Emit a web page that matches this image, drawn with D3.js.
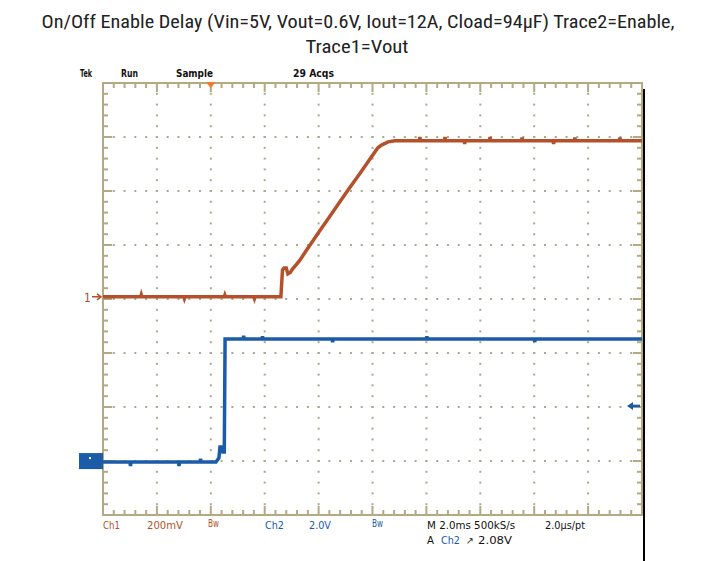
<!DOCTYPE html>
<html><head><meta charset="utf-8">
<script src="https://cdn.jsdelivr.net/npm/d3@7/dist/d3.min.js"></script>
<style>body{margin:0;background:#fff;} svg{display:block}</style>
</head><body><svg id="c" width="710" height="561"></svg>
<script>
// ---------- data ----------
const titleLines = ["On/Off Enable Delay (Vin=5V, Vout=0.6V, Iout=12A, Cload=94µF) Trace2=Enable,", "Trace1=Vout"];
const headerLabels = ["Tek", "Run", "Sample", "29 Acqs"];
const ch1Labels = ["Ch1", "200mV", "Bw"];
const ch2Labels = ["Ch2", "2.0V", "Bw"];
const timebaseLabels = ["M 2.0ms 500kS/s", "2.0µs/pt"];
const triggerLabels = ["A", "Ch2", "↗", "2.08V"];
const timeDomain = [-4, 16];      // ms, 2 ms/div, trigger at 0
const divDomain = [-4, 4];        // vertical divisions
const ch1VoltsPerDiv = 0.2, ch2VoltsPerDiv = 2.0;
const ch1OffsetDiv = 0.04, ch2OffsetDiv = -3.02;
const triggerLevel = 2.08;        // V on Ch2
// Ch1 = Vout  [time ms, volts]
const ch1Trace = [
  [-4,0],[-2.6,0],[-2.58,0.007],[-2.56,0],[-1.0,0],[-0.98,-0.006],[-0.96,0],[0.5,0],[0.52,0.006],[0.54,0],
  [1.6,0],[1.62,-0.006],[1.64,0],[2.6,0],[2.66,0.10],[2.72,0.107],[2.8,0.107],[2.86,0.085],[2.95,0.09],
  [3.01,0.10],[3.3,0.135],[3.6,0.18],[4.05,0.246],[4.4,0.296],[4.79,0.352],[5.1,0.397],[5.54,0.458],
  [5.9,0.51],[6.2,0.552],[6.35,0.563],[6.58,0.574],[6.83,0.578],
  [7.74,0.578],[7.76,0.592],[7.78,0.578],[8.67,0.578],[8.69,0.592],[8.71,0.578],[9.4,0.578],[9.42,0.566],[9.44,0.578],
  [10.34,0.578],[10.36,0.592],[10.38,0.578],[11.53,0.578],[11.55,0.59],[11.57,0.578],[12.7,0.578],[12.72,0.566],[12.74,0.578],
  [13.49,0.578],[13.51,0.59],[13.53,0.578],[15.16,0.578],[15.18,0.59],[15.2,0.578],[16,0.578]
];
// Ch2 = Enable  [time ms, volts]
const ch2Trace = [
  [-4,0],[-3.0,0],[-2.98,-0.15],[-2.96,0],[-1.2,0],[-1.18,-0.15],[-1.16,0],[-0.4,0],[-0.38,0.12],[-0.36,0],
  [0.19,0],[0.3,0.15],[0.34,0.56],[0.42,0.56],[0.45,0.37],[0.5,0.37],[0.53,4.556],
  [1.2,4.556],[1.22,4.68],[1.24,4.556],[1.9,4.556],[1.92,4.66],[1.94,4.556],[4.5,4.556],[4.52,4.44],[4.54,4.556],
  [8.0,4.556],[8.02,4.66],[8.04,4.556],[12.0,4.556],[12.02,4.45],[12.04,4.556],[16,4.556]
];

// ---------- layout ----------
const svg = d3.select("#c");
const L = 103, R = 642, T = 83, B = 515;
const x = d3.scaleLinear().domain(timeDomain).range([L, R]);
const y = d3.scaleLinear().domain(divDomain).range([B, T]);
const y1 = v => y(v / ch1VoltsPerDiv + ch1OffsetDiv);
const y2 = v => y(v / ch2VoltsPerDiv + ch2OffsetDiv);
const gridC = "#b3a982", dotC = "#a9a892", orange = "#b4512b", blue = "#1b5ba8";

// title
const titleFont = "'Liberation Sans Narrow','Roboto Condensed','Arial Narrow',sans-serif";
svg.append("text").attr("x", 358).attr("y", 28).attr("text-anchor", "middle")
  .attr("font-family", titleFont).attr("font-size", 18).attr("fill", "#222")
  .attr("textLength", 633).attr("lengthAdjust", "spacingAndGlyphs").text(titleLines[0]);
svg.append("text").attr("x", 357).attr("y", 53).attr("text-anchor", "middle")
  .attr("font-family", titleFont).attr("font-size", 18).attr("fill", "#222")
  .attr("textLength", 103).attr("lengthAdjust", "spacingAndGlyphs").text(titleLines[1]);

// header
const smallFont = "'DejaVu Sans Condensed','DejaVu Sans',sans-serif";
const hdrPos = [[80, 12], [121, 17], [176, 37], [293, 41]];
headerLabels.forEach((t, i) => {
  svg.append("text").attr("x", hdrPos[i][0]).attr("y", 77).attr("font-family", smallFont)
    .attr("font-size", 10).attr("font-weight", "bold").attr("fill", "#111")
    .attr("textLength", hdrPos[i][1]).attr("lengthAdjust", "spacingAndGlyphs").text(t);
});

// grid dots
const g = svg.append("g");
const majorX = d3.range(timeDomain[0] + 2, timeDomain[1], 2);
const minorX = d3.range(timeDomain[0] + 0.4, timeDomain[1] - 0.01, 0.4);
const majorY = d3.range(divDomain[0] + 1, divDomain[1], 1);
const minorY = d3.range(divDomain[0] + 0.2, divDomain[1] - 0.01, 0.2);
majorX.forEach(mx => minorY.forEach(my => g.append("rect").attr("x", x(mx) - 1).attr("y", y(my) - 1).attr("width", 2).attr("height", 2).attr("fill", dotC)));
majorY.forEach(my => minorX.forEach(mx => g.append("rect").attr("x", x(mx) - 1).attr("y", y(my) - 1).attr("width", 2).attr("height", 2).attr("fill", dotC)));

// frame and ticks
g.append("rect").attr("x", L).attr("y", T).attr("width", R - L).attr("height", B - T)
  .attr("fill", "none").attr("stroke", gridC).attr("stroke-width", 2);
minorX.forEach(mx => {
  const isMaj = Math.abs((mx - timeDomain[0]) / 2 - Math.round((mx - timeDomain[0]) / 2)) < 1e-6;
  const len = isMaj ? 9 : 5;
  g.append("line").attr("x1", x(mx)).attr("x2", x(mx)).attr("y1", T).attr("y2", T + len).attr("stroke", gridC).attr("stroke-width", 2);
  g.append("line").attr("x1", x(mx)).attr("x2", x(mx)).attr("y1", B).attr("y2", B - len).attr("stroke", gridC).attr("stroke-width", 2);
});
minorY.forEach(my => {
  const isMaj = Math.abs(my - Math.round(my)) < 1e-6;
  const len = isMaj ? 9 : 5;
  g.append("line").attr("y1", y(my)).attr("y2", y(my)).attr("x1", L).attr("x2", L + len).attr("stroke", gridC).attr("stroke-width", 2);
  g.append("line").attr("y1", y(my)).attr("y2", y(my)).attr("x1", R).attr("x2", R - len).attr("stroke", gridC).attr("stroke-width", 2);
});

// traces
const line1 = d3.line().x(d => x(d[0])).y(d => y1(d[1]));
const line2 = d3.line().x(d => x(d[0])).y(d => y2(d[1]));
svg.append("path").attr("d", line1(ch1Trace)).attr("fill", "none").attr("stroke", orange).attr("stroke-width", 3.5);
svg.append("path").attr("d", line2(ch2Trace)).attr("fill", "none").attr("stroke", blue).attr("stroke-width", 3.5);

// trigger position marker (top)
svg.append("path").attr("d", `M${x(0) - 5},${T - 1} L${x(0) + 5},${T - 1} L${x(0)},${T + 5} Z`).attr("fill", "#f07a30");
// ch1 ground marker
svg.append("text").attr("x", 84).attr("y", y1(0) + 5).attr("font-family", smallFont).attr("font-size", 12).attr("fill", orange).text("1");
svg.append("path").attr("d", `M92,${y1(0)} L101,${y1(0)} M97,${y1(0) - 3} L101,${y1(0)} L97,${y1(0) + 3}`).attr("stroke", orange).attr("stroke-width", 1.5).attr("fill", "none");
// ch2 ground marker
svg.append("rect").attr("x", 79).attr("y", y2(0) - 9).attr("width", 24).attr("height", 16).attr("fill", blue);
svg.append("rect").attr("x", 89).attr("y", y2(0) - 5).attr("width", 2).attr("height", 2).attr("fill", "#fff");
// trigger level arrow (right)
const ty = y2(triggerLevel);
svg.append("path").attr("d", `M640,${ty} L630,${ty}`).attr("stroke", blue).attr("stroke-width", 2.5);
svg.append("path").attr("d", `M627,${ty} L633,${ty - 4} L633,${ty + 4} Z`).attr("fill", blue);

// right black edge
svg.append("line").attr("x1", 644).attr("x2", 644).attr("y1", 89).attr("y2", 561).attr("stroke", "#000").attr("stroke-width", 2);

// bottom labels
function lab(t, xx, yy, w, col) {
  svg.append("text").attr("x", xx).attr("y", yy).attr("font-family", smallFont).attr("font-size", 10)
    .attr("fill", col).attr("textLength", w).attr("lengthAdjust", "spacingAndGlyphs").text(t);
}
lab(ch1Labels[0], 103, 529, 17, orange);
lab(ch1Labels[1], 147, 529, 36, orange);
lab(ch1Labels[2], 208, 527, 11, orange);
lab(ch2Labels[0], 265, 529, 19, blue);
lab(ch2Labels[1], 309, 529, 22, blue);
lab(ch2Labels[2], 372, 527, 11, blue);
lab(timebaseLabels[0], 427, 529, 88, "#111");
lab(timebaseLabels[1], 545, 529, 40, "#111");
lab(triggerLabels[0], 427, 544, 7, "#111");
lab(triggerLabels[1], 441, 544, 19, blue);
lab(triggerLabels[2], 466, 544, 8, "#111");
lab(triggerLabels[3], 478, 544, 34, "#111");
</script></body></html>
